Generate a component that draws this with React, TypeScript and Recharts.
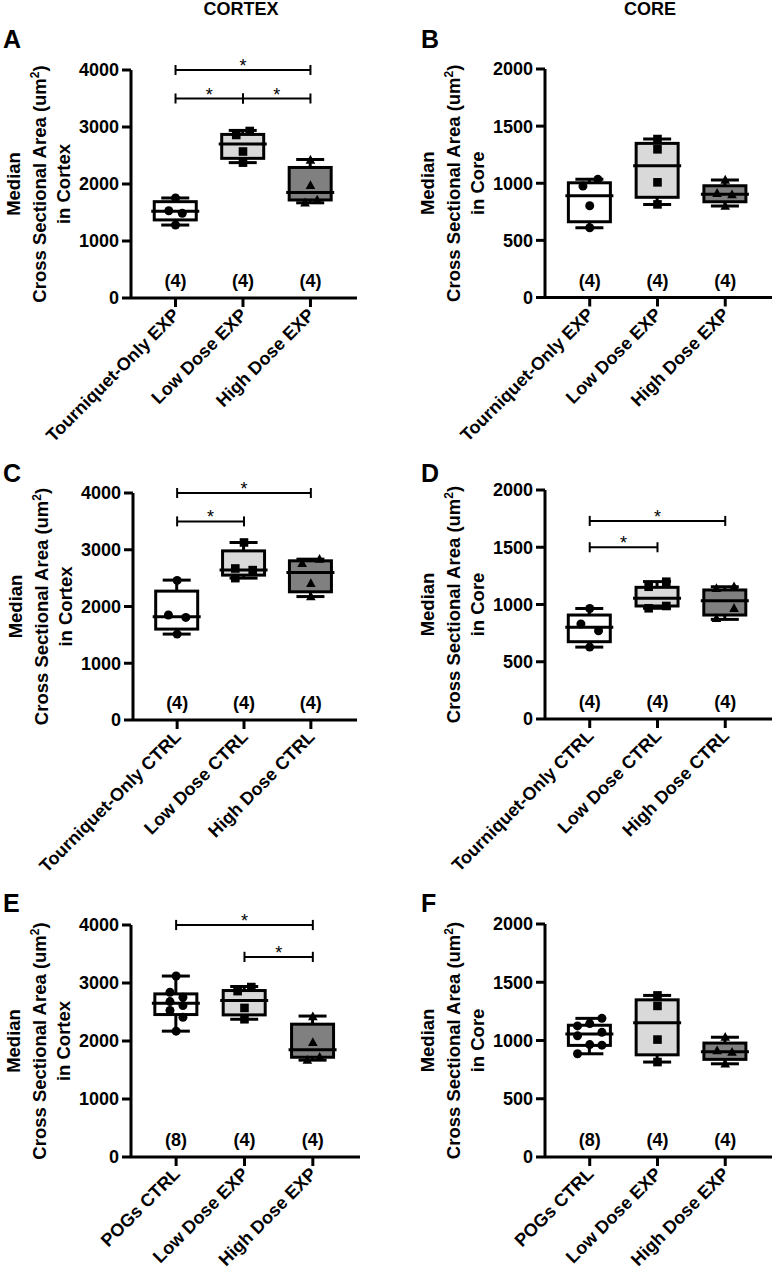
import React from 'react';
import { ComposedChart, Bar, Scatter, XAxis, YAxis, ReferenceLine } from 'recharts';

const FONT = '"Liberation Sans", Arial, Helvetica, sans-serif';

// category labels
const expNames = ['Tourniquet-Only EXP', 'Low Dose EXP', 'High Dose EXP'];
const ctrlNames = ['Tourniquet-Only CTRL', 'Low Dose CTRL', 'High Dose CTRL'];
const pogNames = ['POGs CTRL', 'Low Dose EXP', 'High Dose EXP'];

const cortexTicks = [0, 1000, 2000, 3000, 4000];
const coreTicks = [0, 500, 1000, 1500, 2000];

const nFour = ['(4)', '(4)', '(4)'];
const nPog = ['(8)', '(4)', '(4)'];

// box stats: [min, q1, median, q3, max]
const boxCortexTqExp = [1280, 1370, 1520, 1690, 1755];
const boxCortexLowExp = [2375, 2450, 2700, 2870, 2940];
const boxCortexHighExp = [1670, 1720, 1850, 2290, 2430];
const boxCoreTqExp = [611, 663, 890, 1004, 1034];
const boxCoreLowExp = [815, 877, 1153, 1349, 1387];
const boxCoreHighExp = [800, 838, 903, 978, 1028];
const boxCortexTqCtrl = [1514, 1602, 1819, 2271, 2465];
const boxCortexLowCtrl = [2500, 2553, 2641, 2980, 3128];
const boxCortexHighCtrl = [2175, 2259, 2600, 2805, 2834];
const boxCoreTqCtrl = [628, 675, 801, 908, 965];
const boxCoreLowCtrl = [967, 987, 1054, 1150, 1200];
const boxCoreHighCtrl = [870, 908, 1033, 1127, 1155];
const boxCortexPog = [2170, 2456, 2651, 2812, 3120];
const boxCorePog = [886, 958, 1056, 1131, 1190];

// individual animals + horizontal jitter (category units)
const ptsCortexTqExp = [1755, 1530, 1485, 1280];
const jitCortexTqExp = [0, -0.1, 0.1, 0];
const ptsCortexLowExp = [2930, 2860, 2570, 2375];
const jitCortexLowExp = [0.1, -0.1, 0, 0];
const ptsCortexHighExp = [2420, 1975, 1720, 1670];
const jitCortexHighExp = [0, 0, 0.1, -0.08];
const ptsCoreTqExp = [1034, 975, 803, 611];
const jitCoreTqExp = [0.12, -0.1, 0, 0];
const ptsCoreLowExp = [1387, 1297, 1008, 815];
const jitCoreLowExp = [0, 0, 0, 0];
const ptsCoreHighExp = [1028, 912, 900, 800];
const jitCoreHighExp = [0, -0.12, 0.1, 0];
const ptsCortexTqCtrl = [2460, 1850, 1808, 1514];
const jitCortexTqCtrl = [0, -0.13, 0.13, 0];
const ptsCortexLowCtrl = [3128, 2670, 2641, 2500];
const jitCortexLowCtrl = [0, -0.13, 0.13, -0.13];
const ptsCortexHighCtrl = [2834, 2758, 2406, 2175];
const jitCortexHighCtrl = [0.13, -0.13, 0, 0];
const ptsCoreTqCtrl = [965, 830, 771, 628];
const jitCoreTqCtrl = [0, -0.13, 0.13, 0];
const ptsCoreLowCtrl = [1199, 1155, 987, 967];
const jitCoreLowCtrl = [0.13, -0.13, 0.13, -0.13];
const ptsCoreHighCtrl = [1155, 1141, 967, 879];
const jitCoreHighCtrl = [0.13, -0.13, 0.13, -0.13];
const ptsCortexPog = [3120, 2840, 2754, 2680, 2611, 2525, 2410, 2170];
const jitCortexPog = [0, -0.09, 0.1, -0.09, 0.1, -0.09, 0.1, 0];
const ptsCorePog = [1190, 1145, 1125, 1070, 1040, 965, 960, 886];
const jitCorePog = [0.18, 0, -0.18, 0.18, -0.18, 0, 0.18, -0.18];

// significance brackets: [from group, to group, y]
const bracketsA = [[1, 3, 4000], [1, 2, 3500], [2, 3, 3500]];
const bracketsC = [[1, 3, 4000], [1, 2, 3500]];
const bracketsD = [[1, 3, 1730], [1, 2, 1500]];
const bracketsE = [[1, 3, 4000], [2, 3, 3450]];

const groupFills = ['#ffffff', '#d9d9d9', '#808080'];

const BoxShape = (props: any) => {
  const { x, y, width, height, payload } = props;
  if (!payload) return null;
  const cx = x + width / 2;
  const top = Math.min(y, y + height);
  const bottom = Math.max(y, y + height);
  const { min, q1, median, q3, max, fill } = payload;
  const py = (v: number) => bottom - ((v - min) / (max - min)) * (bottom - top);
  const s = { stroke: '#000', strokeWidth: 3 };
  return (
    <g>
      <line x1={cx} x2={cx} y1={py(max)} y2={py(q3)} {...s} />
      <line x1={cx} x2={cx} y1={py(q1)} y2={py(min)} {...s} />
      <line x1={cx - 14} x2={cx + 14} y1={py(max)} y2={py(max)} {...s} />
      <line x1={cx - 14} x2={cx + 14} y1={py(min)} y2={py(min)} {...s} />
      <rect x={cx - 21} y={py(q3)} width={42} height={py(q1) - py(q3)} fill={fill} {...s} />
      <line x1={cx - 24} x2={cx + 24} y1={py(median)} y2={py(median)} {...s} />
    </g>
  );
};

const CircleMark = (p: any) => <circle cx={p.cx} cy={p.cy} r={4.5} fill="#000" />;
const SquareMark = (p: any) => <rect x={p.cx - 4.3} y={p.cy - 4.3} width={8.6} height={8.6} fill="#000" />;
const TriangleMark = (p: any) => (
  <polygon points={`${p.cx},${p.cy - 5.2} ${p.cx - 4.8},${p.cy + 3.6} ${p.cx + 4.8},${p.cy + 3.6}`} fill="#000" />
);
const markShapes = [CircleMark, SquareMark, TriangleMark];

const NLabel = (p: any) => (
  <text x={p.cx} y={p.cy} dy="0.35em" textAnchor="middle" fontSize={18} fontWeight={700} fill="#000" fontFamily={FONT}>
    {p.payload.label}
  </text>
);

const XTick = (props: any) => {
  const { x, y, payload, names } = props;
  const label = names[Math.round(payload.value) - 1];
  const ax = x + 5;
  const ay = y + 7;
  return (
    <text x={ax} y={ay} transform={`rotate(-45 ${ax} ${ay})`} textAnchor="end" fontSize={18} fontWeight={700} fill="#000" fontFamily={FONT}>
      {label}
    </text>
  );
};

const YLabel = (props: any) => {
  const vb = props.viewBox || { x: 0, y: 0, width: 0, height: 0 };
  const right = vb.x + vb.width;
  const cy = vb.y + vb.height / 2;
  const t = (dx: number) => `translate(${right - dx},${cy}) rotate(-90)`;
  return (
    <g fontFamily={FONT} fontWeight={700} fontSize={18.5} fill="#000">
      <text transform={t(111)} textAnchor="middle">Median</text>
      <text transform={t(85)} textAnchor="middle">
        Cross Sectional Area (um<tspan dy={-7} fontSize={12}>2</tspan><tspan dy={7}>)</tspan>
      </text>
      <text transform={t(61)} textAnchor="middle">{`in ${props.region}`}</text>
    </g>
  );
};

interface PanelCfg {
  left: number;
  top: number;
  height: number;
  margin: { top: number; right: number; bottom: number; left: number };
  region: string;
  yMax: number;
  yTicks: number[];
  names: string[];
  n: string[];
  boxes: number[][];
  pts: number[][];
  jit: number[][];
  brackets: number[][];
}

const Panel = ({ cfg }: { cfg: PanelCfg }) => {
  const rows = cfg.boxes.map((b, i) => ({
    x: i + 1,
    range: [b[0], b[4]],
    min: b[0],
    q1: b[1],
    median: b[2],
    q3: b[3],
    max: b[4],
    fill: groupFills[i],
  }));
  const nRows = cfg.n.map((label, i) => ({ x: i + 1, y: cfg.yMax * 0.075, label }));
  const d = cfg.yMax * 0.022;
  const axisStyle = { stroke: '#000', strokeWidth: 3 };
  return (
    <div style={{ position: 'absolute', left: cfg.left, top: cfg.top }}>
      <ComposedChart width={388} height={cfg.height} data={rows} margin={cfg.margin}>
        <XAxis
          type="number"
          dataKey="x"
          domain={[0.34, 3.69]}
          ticks={[1, 2, 3]}
          interval={0}
          allowDataOverflow
          height={150}
          tickSize={9}
          tickMargin={2}
          axisLine={axisStyle}
          tickLine={axisStyle}
          tick={<XTick names={cfg.names} />}
        />
        <YAxis
          type="number"
          domain={[0, cfg.yMax]}
          ticks={cfg.yTicks}
          interval={0}
          allowDataOverflow
          width={60}
          tickSize={9}
          tickMargin={3}
          axisLine={axisStyle}
          tickLine={axisStyle}
          tick={{ fill: '#000', fontSize: 18, fontWeight: 700, fontFamily: FONT }}
          label={<YLabel region={cfg.region} />}
        />
        <Bar dataKey="range" barSize={42} shape={BoxShape} isAnimationActive={false} />
        {cfg.pts.map((p, i) => (
          <Scatter
            key={`pts${i}`}
            data={p.map((v, k) => ({ x: i + 1 + cfg.jit[i][k], y: v }))}
            dataKey="y"
            shape={markShapes[i]}
            isAnimationActive={false}
          />
        ))}
        <Scatter data={nRows} dataKey="y" shape={NLabel} isAnimationActive={false} />
        {cfg.brackets.map(([a, b, yv], i) => (
          <React.Fragment key={`br${i}`}>
            <ReferenceLine
              segment={[{ x: a, y: yv }, { x: b, y: yv }]}
              stroke="#000"
              strokeWidth={2}
              ifOverflow="visible"
              label={{ value: '*', position: 'top', offset: -2, fill: '#000', fontSize: 18, fontFamily: FONT }}
            />
            <ReferenceLine segment={[{ x: a, y: yv - d }, { x: a, y: yv + d }]} stroke="#000" strokeWidth={2} ifOverflow="visible" />
            <ReferenceLine segment={[{ x: b, y: yv - d }, { x: b, y: yv + d }]} stroke="#000" strokeWidth={2} ifOverflow="visible" />
          </React.Fragment>
        ))}
      </ComposedChart>
    </div>
  );
};

const panels: PanelCfg[] = [
  {
    left: 0, top: 0, height: 460, margin: { top: 70, right: 31, bottom: 12, left: 71 },
    region: 'Cortex', yMax: 4000, yTicks: cortexTicks, names: expNames, n: nFour,
    boxes: [boxCortexTqExp, boxCortexLowExp, boxCortexHighExp],
    pts: [ptsCortexTqExp, ptsCortexLowExp, ptsCortexHighExp],
    jit: [jitCortexTqExp, jitCortexLowExp, jitCortexHighExp],
    brackets: bracketsA,
  },
  {
    left: 388, top: 0, height: 460, margin: { top: 69, right: 4, bottom: 12.5, left: 97 },
    region: 'Core', yMax: 2000, yTicks: coreTicks, names: expNames, n: nFour,
    boxes: [boxCoreTqExp, boxCoreLowExp, boxCoreHighExp],
    pts: [ptsCoreTqExp, ptsCoreLowExp, ptsCoreHighExp],
    jit: [jitCoreTqExp, jitCoreLowExp, jitCoreHighExp],
    brackets: [],
  },
  {
    left: 0, top: 420, height: 460, margin: { top: 73, right: 31, bottom: 10, left: 73 },
    region: 'Cortex', yMax: 4000, yTicks: cortexTicks, names: ctrlNames, n: nFour,
    boxes: [boxCortexTqCtrl, boxCortexLowCtrl, boxCortexHighCtrl],
    pts: [ptsCortexTqCtrl, ptsCortexLowCtrl, ptsCortexHighCtrl],
    jit: [jitCortexTqCtrl, jitCortexLowCtrl, jitCortexHighCtrl],
    brackets: bracketsC,
  },
  {
    left: 388, top: 420, height: 460, margin: { top: 70, right: 4, bottom: 11, left: 97 },
    region: 'Core', yMax: 2000, yTicks: coreTicks, names: ctrlNames, n: nFour,
    boxes: [boxCoreTqCtrl, boxCoreLowCtrl, boxCoreHighCtrl],
    pts: [ptsCoreTqCtrl, ptsCoreLowCtrl, ptsCoreHighCtrl],
    jit: [jitCoreTqCtrl, jitCoreLowCtrl, jitCoreHighCtrl],
    brackets: bracketsD,
  },
  {
    left: 0, top: 850, height: 457, margin: { top: 75, right: 28, bottom: 0, left: 71 },
    region: 'Cortex', yMax: 4000, yTicks: cortexTicks, names: pogNames, n: nPog,
    boxes: [boxCortexPog, boxCortexLowExp, boxCortexHighExp],
    pts: [ptsCortexPog, ptsCortexLowExp, ptsCortexHighExp],
    jit: [jitCortexPog, jitCortexLowExp, jitCortexHighExp],
    brackets: bracketsE,
  },
  {
    left: 388, top: 850, height: 457, margin: { top: 74, right: 4, bottom: 0, left: 97 },
    region: 'Core', yMax: 2000, yTicks: coreTicks, names: pogNames, n: nPog,
    boxes: [boxCorePog, boxCoreLowExp, boxCoreHighExp],
    pts: [ptsCorePog, ptsCoreLowExp, ptsCoreHighExp],
    jit: [jitCorePog, jitCoreLowExp, jitCoreHighExp],
    brackets: [],
  },
];

const letters = [
  { t: 'A', x: 3, y: 48 },
  { t: 'B', x: 421, y: 48 },
  { t: 'C', x: 3, y: 482 },
  { t: 'D', x: 421, y: 482 },
  { t: 'E', x: 3, y: 912 },
  { t: 'F', x: 421, y: 912 },
];

export default function App() {
  return (
    <div style={{ position: 'absolute', left: 0, top: 0, width: 776, height: 1277, background: '#fff', overflow: 'hidden', fontFamily: FONT }}>
      {panels.map((cfg, i) => (
        <Panel key={i} cfg={cfg} />
      ))}
      <svg width={776} height={1277} style={{ position: 'absolute', left: 0, top: 0, pointerEvents: 'none' }}>
        <g fontFamily={FONT} fontWeight={700} fill="#000">
          <text x={241} y={15} textAnchor="middle" fontSize={18}>CORTEX</text>
          <text x={650} y={15} textAnchor="middle" fontSize={18}>CORE</text>
          {letters.map((l) => (
            <text key={l.t} x={l.x} y={l.y} fontSize={25}>{l.t}</text>
          ))}
        </g>
      </svg>
    </div>
  );
}
